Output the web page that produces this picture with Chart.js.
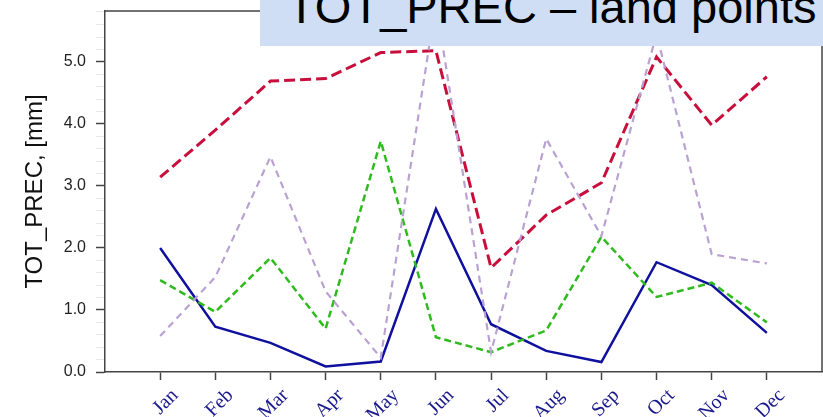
<!DOCTYPE html>
<html>
<head>
<meta charset="utf-8">
<script src="https://cdn.jsdelivr.net/npm/chart.js@4"></script>
<style>
  html, body { margin: 0; padding: 0; background: #fff; }
  #wrap { position: relative; width: 823px; height: 417px; overflow: hidden; }
  #title {
    position: absolute; left: 260px; top: 0; width: 563px; height: 46px;
    background: #cfdef4; overflow: hidden;
  }
  #title span {
    position: absolute; left: 27px; top: -17px; white-space: nowrap;
    font-family: "Liberation Sans", Arial, sans-serif; font-size: 47px; line-height: 47px; color: #000;
  }
</style>
</head>
<body>
<div id="wrap">
  <canvas id="c" width="823" height="417"></canvas>
  <div id="title"><span>TOT_PREC – land points</span></div>
</div>
<script>
// Monthly mean precipitation over land points, four runs
const months = ['Jan','Feb','Mar','Apr','May','Jun','Jul','Aug','Sep','Oct','Nov','Dec'];
const runBlue   = [2.00, 0.73, 0.47, 0.09, 0.17, 2.63, 0.77, 0.34, 0.16, 1.77, 1.40, 0.63];
const runGreen  = [1.48, 0.97, 1.84, 0.70, 3.72, 0.56, 0.32, 0.67, 2.18, 1.21, 1.44, 0.80];
const runRed    = [3.14, 3.90, 4.69, 4.73, 5.15, 5.18, 1.68, 2.53, 3.05, 5.08, 3.98, 4.76];
const runPurple = [0.58, 1.53, 3.47, 1.30, 0.23, 5.95, 0.32, 3.76, 2.19, 5.45, 1.90, 1.75];
const yTickValues = [0, 1, 2, 3, 4, 5];

const pts = arr => arr.map((v, i) => ({ x: i, y: v }));
const isMajor = v => yTickValues.some(t => Math.abs(t - v) < 1e-6);
const noPad = s => { s.paddingLeft = 0; s.paddingRight = 0; s.paddingTop = 0; s.paddingBottom = 0; };

// closes the plot frame on the top and right sides
const frame = {
  id: 'frame',
  afterDraw(chart) {
    const { ctx, chartArea: a } = chart;
    ctx.save();
    ctx.strokeStyle = '#444';
    ctx.lineWidth = 1.5;
    ctx.beginPath();
    ctx.moveTo(a.left, a.top);
    ctx.lineTo(a.right, a.top);
    ctx.lineTo(a.right, a.bottom);
    ctx.stroke();
    ctx.restore();
  }
};

new Chart(document.getElementById('c'), {
  type: 'line',
  data: {
    datasets: [
      { data: pts(runPurple), borderColor: '#b9a2d2', borderWidth: 2.2, borderDash: [7, 5] },
      { data: pts(runGreen),  borderColor: '#2fbb1e', borderWidth: 2.5, borderDash: [7, 4] },
      { data: pts(runRed),    borderColor: '#c80f3c', borderWidth: 3, borderDash: [11, 5] },
      { data: pts(runBlue),   borderColor: '#10109e', borderWidth: 2.5 }
    ]
  },
  options: {
    responsive: false,
    animation: false,
    events: [],
    elements: { point: { radius: 0 }, line: { tension: 0 } },
    layout: { padding: { top: 11, right: 1, left: 0, bottom: 0 } },
    plugins: { legend: { display: false }, tooltip: { enabled: false }, title: { display: false } },
    scales: {
      x: {
        type: 'linear', min: -1, max: 12,
        afterFit(s) { s.height = 45; noPad(s); },
        border: { color: '#444', width: 1.5 },
        grid: {
          drawOnChartArea: false, tickLength: 8, tickWidth: 1.5,
          tickColor: c => (c.tick && c.tick.value >= 0 && c.tick.value <= 11) ? '#444' : 'rgba(0,0,0,0)'
        },
        ticks: {
          stepSize: 1, autoSkip: false, maxRotation: 45, minRotation: 45, padding: 4, labelOffset: 15,
          color: '#1a1a8c',
          font: { family: '"Liberation Serif", "Times New Roman", serif', size: 20 },
          callback: v => (v >= 0 && v <= 11) ? months[v] : ''
        }
      },
      y: {
        type: 'linear', min: 0, max: 5.82,
        afterFit(s) { s.width = 105; noPad(s); },
        border: { color: '#444', width: 1.5 },
        grid: {
          drawOnChartArea: false, tickLength: 9,
          tickWidth: c => isMajor(c.tick.value) ? 1.5 : 1,
          tickColor: c => isMajor(c.tick.value) ? '#444' : 'rgba(0,0,0,0.09)'
        },
        ticks: {
          stepSize: 0.2, autoSkip: false, padding: 10, color: '#222',
          font: { family: '"Liberation Sans", Arial, sans-serif', size: 16 },
          callback: v => isMajor(v) ? Number(v).toFixed(1) : ''
        },
        title: {
          display: true, text: 'TOT_PREC, [mm]', color: '#111',
          font: { family: '"Liberation Sans", Arial, sans-serif', size: 24 },
          padding: { top: 21, bottom: 0 }
        }
      }
    }
  },
  plugins: [frame]
});
</script>
</body>
</html>
